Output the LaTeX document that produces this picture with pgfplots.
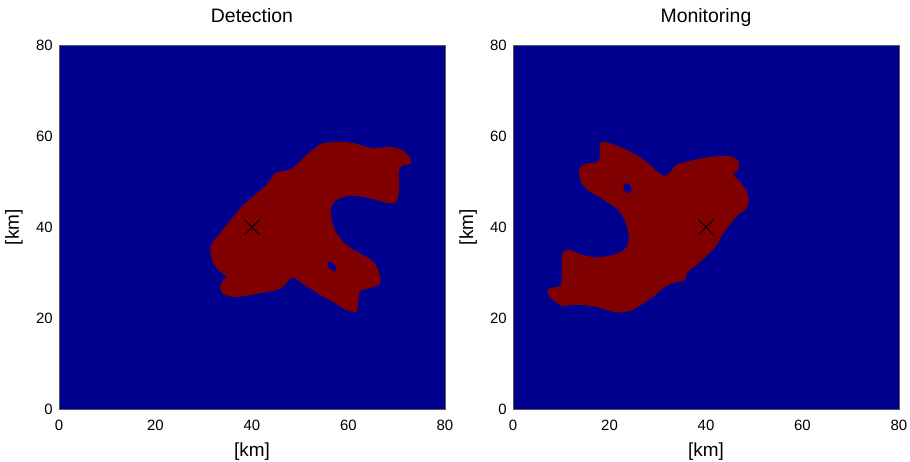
\documentclass[border=0pt]{standalone}
\usepackage{fontspec}
\setmainfont{Liberation Sans}
\usepackage{pgfplots}
\pgfplotsset{compat=1.18}

\definecolor{jetblue}{RGB}{0,0,143}
\definecolor{jetred}{RGB}{128,0,0}

\pgfplotsset{
  kmmap/.style={
    scale only axis, width=386bp, height=364bp,
    anchor=south west,
    xmin=0, xmax=80, ymin=0, ymax=80,
    xtick={0,20,...,80}, ytick={0,20,...,80},
    major tick length=0pt,
    axis on top,
    axis line style={draw=black!65, line width=0.5pt},
    /pgf/number format/assume math mode=true,
    tick label style={font=\fontsize{15}{18}\selectfont},
    xticklabel style={anchor=center, inner sep=0pt, yshift=-16bp},
    yticklabel style={anchor=east, inner sep=0pt, xshift=-6bp},
    xlabel={[km]}, ylabel={[km]},
    label style={font=\fontsize{19}{22}\selectfont},
    xlabel style={at={(axis description cs:0.5,0)}, anchor=base, yshift=-47bp, inner sep=0pt},
    ylabel style={at={(axis description cs:0,0.5)}, anchor=base, yshift=40bp, inner sep=0pt},
    title style={font=\fontsize{19.5}{22}\selectfont, at={(axis description cs:0.5,1)}, anchor=base, yshift=17bp, inner sep=0pt},
  },
  field/.style={fill=jetblue, draw=none},
  region/.style={fill=jetred, draw=none, smooth, tension=0.45},
  hole/.style={fill=jetblue, draw=none, smooth, tension=0.6},
  source/.style={only marks, mark=x, mark size=10.5bp, black, line width=0.9pt},
}

\begin{document}
\begin{tikzpicture}
% Detection map
\begin{axis}[kmmap, at={(0,0)}, title={Detection}]
  \addplot[field] coordinates {(0,0) (80,0) (80,80) (0,80)};
  \addplot[region] coordinates {
    (54.7,58.5)(58.2,58.8)(61.0,58.5)(65.1,57.4)(68.5,57.7)(71.0,57.0)(72.5,55.7)(73.0,54.1)
    (71.0,53.5)(70.4,52.2)(70.5,49.7)(70.3,46.7)(69.8,45.4)(68.2,45.3)(65.8,46.0)(63.0,46.7)
    (60.3,46.9)(58.2,46.4)(56.8,45.3)(56.3,43.8)(56.5,41.6)(57.5,38.7)(59.6,36.1)(62.3,34.3)
    (64.8,32.8)(65.9,31.3)(66.6,29.1)(66.5,27.6)(65.1,26.8)(62.7,26.2)(62.2,25.5)(62.0,23.6)
    (61.7,21.5)(59.6,21.8)(56.8,23.6)(54.1,25.1)(52.0,26.6)(49.9,28.0)(48.9,28.9)(47.9,28.8)
    (46.8,27.3)(45.1,26.2)(41.7,25.5)(38.2,24.9)(36.1,24.7)(34.1,25.3)(33.4,26.6)(33.7,28.0)
    (34.8,29.1)(33.4,30.2)(32.0,32.1)(31.4,34.3)(31.6,36.3)(33.4,38.7)(36.1,42.3)(38.2,44.9)
    (40.6,47.1)(43.0,49.3)(44.8,51.9)(45.8,52.2)(47.9,52.7)(49.6,54.1)(51.3,55.9)(53.0,57.4)
    (54.7,58.5)};
  \addplot[hole] coordinates {
    (57.37,30.48)(57.50,31.05)(57.10,31.82)(56.41,32.35)(55.83,32.32)(55.70,31.75)
    (56.10,30.98)(56.79,30.45)(57.37,30.48)};
  \addplot[source] coordinates {(40,40)};
\end{axis}

% Monitoring map
\begin{axis}[kmmap, at={(454bp,0)}, title={Monitoring}]
  \addplot[field] coordinates {(0,0) (80,0) (80,80) (0,80)};
  \addplot[region] coordinates {
    (18.3,58.8)(20.0,58.5)(22.8,57.4)(25.6,55.9)(28.0,54.1)(30.0,52.2)(31.4,51.3)(32.4,51.9)
    (33.8,53.7)(35.9,54.4)(39.3,55.2)(42.8,55.7)(45.5,55.5)(46.8,54.4)(46.6,52.6)(45.7,51.5)
    (47.3,49.7)(48.6,47.5)(48.8,45.6)(48.1,43.8)(46.6,42.7)(45.2,40.9)(43.5,38.7)(42.4,36.3)
    (40.7,34.3)(38.0,31.7)(36.2,30.2)(35.5,28.4)(33.1,27.7)(31.1,26.6)(29.0,24.7)(26.2,22.7)
    (24.5,21.7)(21.4,21.3)(17.3,22.5)(14.5,22.9)(11.8,22.9)(10.4,22.7)(8.3,24.0)(7.1,25.8)
    (7.6,26.6)(9.7,27.1)(10.1,28.4)(10.1,32.8)(10.4,34.6)(11.8,35.0)(14.5,33.9)(17.3,33.4)
    (20.7,33.9)(22.8,34.9)(23.8,36.1)(24.0,37.9)(23.8,39.4)(23.1,41.6)(21.8,43.8)(19.4,45.6)
    (17.1,47.1)(15.0,48.6)(13.8,50.8)(13.8,53.0)(14.9,53.9)(17.6,54.4)(18.0,55.9)(18.0,58.1)
    (18.3,58.8)};
  \addplot[hole] coordinates {
    (24.21,47.51)(24.54,48.06)(24.38,48.92)(23.82,49.59)(23.19,49.69)(22.86,49.15)
    (23.02,48.28)(23.58,47.61)(24.21,47.51)};
  \addplot[source] coordinates {(40,40)};
\end{axis}

\path (-59bp,-52.7bp) rectangle (851bp,409.3bp);
\end{tikzpicture}
\end{document}
